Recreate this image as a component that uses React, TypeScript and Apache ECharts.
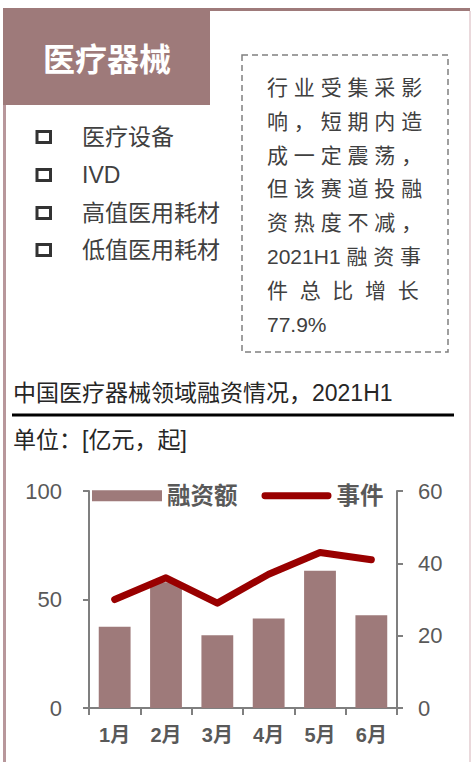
import React, { useEffect, useRef } from "react";
import * as echarts from "echarts";

const categories = ["1月", "2月", "3月", "4月", "5月", "6月"];
const financingAmount = [37.5, 58, 33.5, 41.3, 63.3, 42.7];
const eventCount = [30, 36, 29, 37, 43, 41];
const seriesNames = ["融资额", "事件"];
const bulletItems = ["医疗设备", "IVD", "高值医用耗材", "低值医用耗材"];
const noteLines = [
  "行 业 受 集 采 影",
  "响 ， 短 期 内 造",
  "成 一 定 震 荡 ，",
  "但 该 赛 道 投 融",
  "资 热 度 不 减 ，",
  "2021H1 融 资 事",
  "件  总  比  增  长",
  "77.9%",
];
const panelTitle = "医疗器械";
const chartTitle = "中国医疗器械领域融资情况，2021H1";
const unitText = "单位：[亿元，起]";

const MAUVE = "#9E7A7A";
const LINE_RED = "#990000";
const FONT = "'Liberation Sans', 'Noto Sans CJK SC', sans-serif";

export default function App() {
  const ref = useRef<HTMLDivElement>(null);
  useEffect(() => {
    if (!ref.current) return;
    const chart = echarts.init(ref.current, null, { renderer: "svg" });
    const graphics: any[] = [
      { type: "rect", shape: { x: 3, y: 8, width: 3, height: 754 }, style: { fill: "#B8979B" } },
      { type: "rect", shape: { x: 3, y: 8, width: 467, height: 3 }, style: { fill: MAUVE } },
      { type: "line", shape: { x1: 470, y1: 11, x2: 470, y2: 762 }, style: { stroke: "#E3CDD1", lineWidth: 1.5 } },
      { type: "rect", shape: { x: 3, y: 8, width: 207, height: 97 }, style: { fill: MAUVE } },
      {
        type: "text",
        x: 107,
        y: 60,
        style: { text: panelTitle, fill: "#fff", font: `bold 32px ${FONT}`, align: "center", verticalAlign: "middle" },
      },
      {
        type: "rect",
        shape: { x: 242, y: 55, width: 206, height: 297 },
        style: { fill: "none", stroke: "#808080", lineWidth: 1.5, lineDash: [6, 4] },
      },
      {
        type: "text",
        x: 13,
        y: 393,
        style: { text: chartTitle, fill: "#262626", font: `23px ${FONT}`, verticalAlign: "middle" },
      },
      { type: "line", shape: { x1: 12, y1: 415, x2: 454, y2: 415 }, style: { stroke: "#000", lineWidth: 3 } },
      {
        type: "text",
        x: 13,
        y: 440,
        style: { text: unitText, fill: "#262626", font: `23px ${FONT}`, verticalAlign: "middle" },
      },
    ];
    const bulletY = [137, 175, 213, 250];
    bulletItems.forEach((t, i) => {
      graphics.push({
        type: "rect",
        shape: { x: 37, y: bulletY[i] - 5.5, width: 13.5, height: 11 },
        style: { fill: "none", stroke: "#333", lineWidth: 3 },
      });
      graphics.push({
        type: "text",
        x: 82,
        y: bulletY[i],
        style: { text: t, fill: "#404040", font: `23px ${FONT}`, verticalAlign: "middle" },
      });
    });
    noteLines.forEach((t, i) => {
      graphics.push({
        type: "text",
        x: 267,
        y: 87.5 + i * 33.8,
        style: { text: t, fill: "#404040", font: `21px ${FONT}`, verticalAlign: "middle" },
      });
    });

    const axisLineStyle = { color: "#7F7F7F", width: 2 };
    chart.setOption({
      animation: false,
      graphic: graphics,
      grid: { left: 89, right: 74, top: 491, bottom: 54, containLabel: false },
      legend: {
        left: 92,
        top: 484,
        padding: 0,
        itemGap: 24,
        itemWidth: 70,
        itemHeight: 11,
        textStyle: { color: "#595959", fontSize: 23.5, fontWeight: "bold", fontFamily: FONT },
        data: [
          { name: seriesNames[0], icon: "rect" },
          {
            name: seriesNames[1],
            icon: "path://M3.5,0 L68.5,0 A3.5,3.5 0 0 1 68.5,7 L3.5,7 A3.5,3.5 0 0 1 3.5,0 Z",
            itemStyle: { color: LINE_RED },
          },
        ],
      },
      xAxis: {
        type: "category",
        data: categories,
        axisLine: { lineStyle: axisLineStyle },
        axisTick: { show: true, length: 7, lineStyle: axisLineStyle },
        axisLabel: { color: "#595959", fontSize: 20, fontWeight: "bold", fontFamily: FONT, margin: 17 },
        splitLine: { show: false },
      },
      yAxis: [
        {
          type: "value",
          min: 0,
          max: 100,
          interval: 50,
          position: "left",
          axisLine: { show: true, lineStyle: axisLineStyle },
          axisTick: { show: true, length: 6, lineStyle: axisLineStyle },
          axisLabel: { color: "#595959", fontSize: 22, fontFamily: FONT, margin: 27 },
          splitLine: { show: false },
        },
        {
          type: "value",
          min: 0,
          max: 60,
          interval: 20,
          position: "right",
          axisLine: { show: true, lineStyle: axisLineStyle },
          axisTick: { show: true, length: 6, lineStyle: axisLineStyle },
          axisLabel: { color: "#595959", fontSize: 22, fontFamily: FONT, margin: 21 },
          splitLine: { show: false },
        },
      ],
      series: [
        {
          name: seriesNames[0],
          type: "bar",
          data: financingAmount,
          yAxisIndex: 0,
          barWidth: "62%",
          itemStyle: { color: MAUVE },
        },
        {
          name: seriesNames[1],
          type: "line",
          data: eventCount,
          yAxisIndex: 1,
          symbol: "none",
          z: 3,
          lineStyle: { color: LINE_RED, width: 7, cap: "round", join: "round" },
          itemStyle: { color: LINE_RED },
        },
      ],
    });
    return () => chart.dispose();
  }, []);
  return (
    <div
      ref={ref}
      style={{ position: "fixed", left: 0, top: 0, width: 471, height: 762, background: "#fff" }}
    />
  );
}
